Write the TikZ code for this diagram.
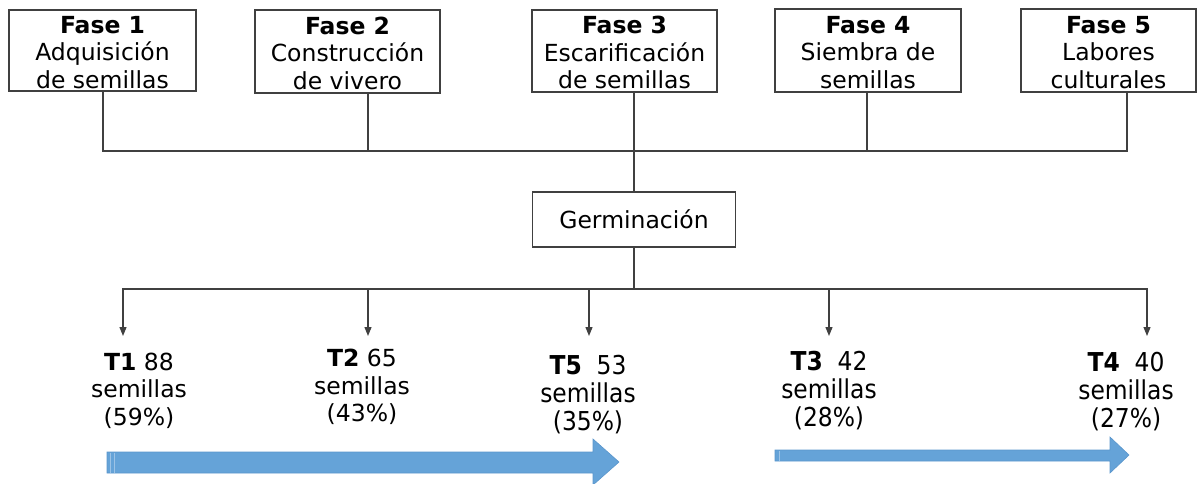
\documentclass[tikz,border=0pt]{standalone}
\usepackage{fontspec}
\setmainfont{DejaVu Sans}
\newfontfamily\narrowfont[FakeStretch=0.9]{DejaVu Sans}
\usetikzlibrary{arrows.meta}
\definecolor{arrowblue}{HTML}{65A3D8}
\definecolor{arrowedge}{HTML}{5A96CC}
\definecolor{stripe}{HTML}{9CC3E6}
\definecolor{linegrey}{HTML}{404040}
\newcommand{\topstrut}{\rule{0pt}{21pt}}
\begin{document}
\begin{tikzpicture}[x=1pt,y=-1pt,
  phasebox/.style={draw=linegrey,line width=1.3pt,inner sep=0pt,align=center,
    font=\fontsize{23.5}{27.5}\selectfont},
  link/.style={draw=linegrey,line width=1.2pt},
  tip/.style={link,-{Triangle[width=7pt,length=9pt]}},
  wide/.style={align=center,inner sep=0pt,font=\fontsize{23.5}{27.5}\selectfont},
  narrow/.style={align=center,inner sep=0pt,font=\narrowfont\fontsize{26}{28}\selectfont},
  bigarrow/.style={fill=arrowblue,draw=arrowedge,line width=0.6pt}]
\useasboundingbox (0,0) rectangle (1198,483);

% phase boxes
\node[phasebox,minimum width=187pt,minimum height=81pt] (f1) at (102.5,50.5)
  {\topstrut\textbf{Fase 1}\\Adquisición\\de semillas};
\node[phasebox,minimum width=185pt,minimum height=83pt] (f2) at (347.5,51.5)
  {\topstrut\textbf{Fase 2}\\Construcción\\de vivero};
\node[phasebox,minimum width=185pt,minimum height=82pt] (f3) at (624.5,51)
  {\topstrut\textbf{Fase 3}\\Escarificación\\de semillas};
\node[phasebox,minimum width=186pt,minimum height=83pt] (f4) at (868,50.5)
  {\topstrut\textbf{Fase 4}\\Siembra de\\semillas};
\node[phasebox,minimum width=175pt,minimum height=83pt] (f5) at (1108.5,50.5)
  {\topstrut\textbf{Fase 5}\\Labores\\culturales};

\coordinate (jt) at (634,151);
\draw[link] ([xshift=0.5pt]f1.south) |- (jt);
\draw[link] ([xshift=18.5pt]f5.south) |- (jt);
\draw[link] ([xshift=20.5pt]f2.south) |- (jt);
\draw[link] ([xshift=-1pt]f4.south) |- (jt);
\draw[link] ([xshift=9.5pt]f3.south) -- (jt);

% germination
\node[phasebox,minimum width=203pt,minimum height=55pt] (germ) at (634,219.5) {Germinación};
\draw[link] (jt) -- (germ.north);

\coordinate (jb) at (634,289);
\coordinate (a1) at (123,336);
\coordinate (a2) at (368,336);
\coordinate (a5) at (589,336);
\coordinate (a3) at (829,336);
\coordinate (a4) at (1147,336);
\draw[link] (germ.south) -- (jb);
\draw[tip] (jb) -| (a1);
\draw[tip] (jb) -| (a4);
\draw[tip] (jb -| a2) -- (a2);
\draw[tip] (jb -| a5) -- (a5);
\draw[tip] (jb -| a3) -- (a3);

% treatment results
\node[wide] (t1) at (139,390.5) {\textbf{T1} 88\\semillas\\(59\%)};
\node[wide] (t2) at (362,387) {\textbf{T2} 65\\semillas\\(43\%)};
\node[narrow] (t5) at (588,395) {\textbf{T5}\ \ 53\\semillas\\(35\%)};
\node[narrow] (t3) at (829,391) {\textbf{T3}\ \ 42\\semillas\\(28\%)};
\node[narrow] (t4) at (1126,392) {\textbf{T4}\ \ 40\\semillas\\(27\%)};

% block arrows
\path[bigarrow] (107,452) -- (593,452) -- (593,439) -- (619,462) -- (593,485)
  -- (593,473) -- (107,473) -- cycle;
\draw[stripe,line width=0.8pt] (110,452.5) -- (110,472.5);
\draw[stripe,line width=0.8pt] (114,452.5) -- (114,472.5);
\path[bigarrow] (775,450) -- (1110,450) -- (1110,437) -- (1129,455) -- (1110,473)
  -- (1110,461) -- (775,461) -- cycle;
\draw[stripe,line width=0.8pt] (779,450.5) -- (779,460.5);
\end{tikzpicture}
\end{document}
